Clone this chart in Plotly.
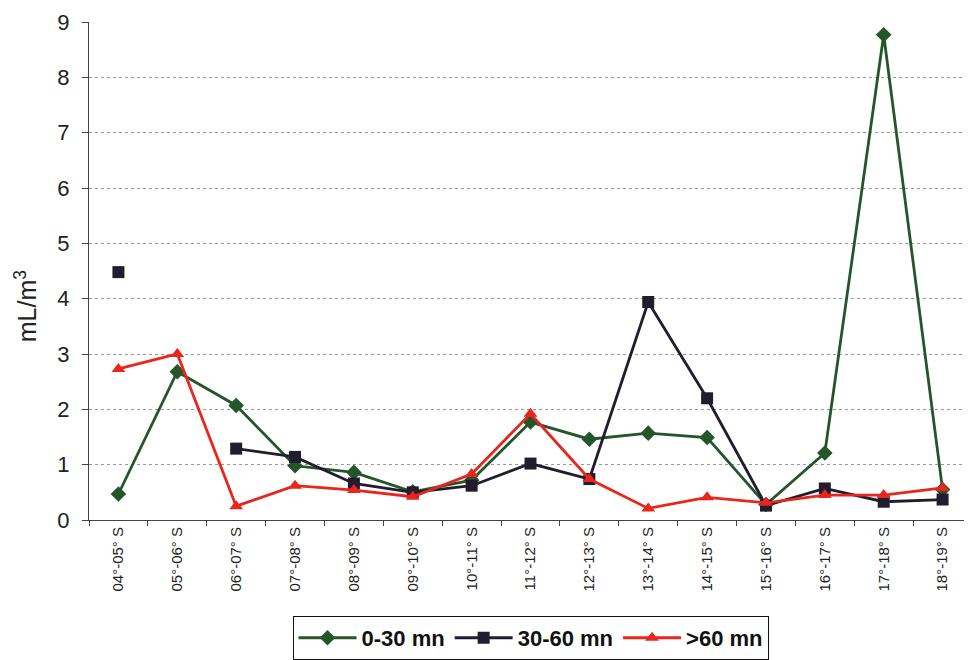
import plotly.graph_objects as go

categories = ["04°-05° S", "05°-06° S", "06°-07° S", "07°-08° S", "08°-09° S",
              "09°-10° S", "10°-11° S", "11°-12° S", "12°-13° S", "13°-14° S",
              "14°-15° S", "15°-16° S", "16°-17° S", "17°-18° S", "18°-19° S"]

s_0_30 = [0.47, 2.68, 2.07, 0.98, 0.86, 0.51, 0.72, 1.77, 1.46, 1.57, 1.49, 0.28, 1.21, 8.77, 0.55]
s_30_60 = [4.48, None, 1.29, 1.14, 0.66, 0.50, 0.62, 1.02, 0.74, 3.94, 2.20, 0.26, 0.57, 0.33, 0.37]
s_60 = [2.73, 3.00, 0.25, 0.62, 0.54, 0.42, 0.83, 1.92, 0.74, 0.21, 0.41, 0.31, 0.45, 0.45, 0.58]

names = ["0-30 mn", "30-60 mn", ">60 mn"]
colors = ["#24562a", "#221d2e", "#e8261c"]
symbols = ["diamond", "square", "triangle-up"]

fig = go.Figure()
for vals, name, col, sym in zip([s_0_30, s_30_60, s_60], names, colors, symbols):
    fig.add_trace(go.Scatter(
        x=categories, y=vals, name=name, mode="lines+markers",
        connectgaps=False,
        line=dict(color=col, width=2.8),
        marker=dict(symbol=sym, size=12, color=col),
    ))

fig.update_layout(
    width=972, height=660,
    margin=dict(l=81, r=8, t=14, b=148),
    paper_bgcolor="white", plot_bgcolor="white",
    font=dict(family="Liberation Sans, Arial, sans-serif", color="#222"),
    showlegend=True,
    legend=dict(orientation="h", x=0.5, xanchor="center", y=-0.281, yanchor="bottom",
                bordercolor="#111", borderwidth=1, itemwidth=58,
                font=dict(size=22, family="Liberation Sans, Arial, sans-serif", color="#111", weight="bold"),
                traceorder="normal"),
    annotations=[dict(
        text="mL/m<sup>3</sup>", textangle=-90, showarrow=False,
        xref="paper", yref="paper", x=-0.072, y=0.43, xanchor="center", yanchor="middle",
        font=dict(size=25, color="#222"),
    )],
)
fig.update_xaxes(
    type="category", range=[-0.5, 14.5], tickangle=-90, tickfont=dict(size=15),
    showline=True, linecolor="#444", linewidth=1, automargin=False,
    ticks="outside", tickson="boundaries", ticklen=5, tickcolor="#444",
    showgrid=False,
)
fig.update_yaxes(
    range=[0, 9], dtick=1, tickfont=dict(size=22), automargin=False,
    showline=True, linecolor="#444", linewidth=1,
    ticks="outside", ticklen=6, tickcolor="#444", ticklabelstandoff=8,
    showgrid=True, gridcolor="#999", griddash="dot", gridwidth=1,
    zeroline=False,
)

fig.write_html("out.html")
